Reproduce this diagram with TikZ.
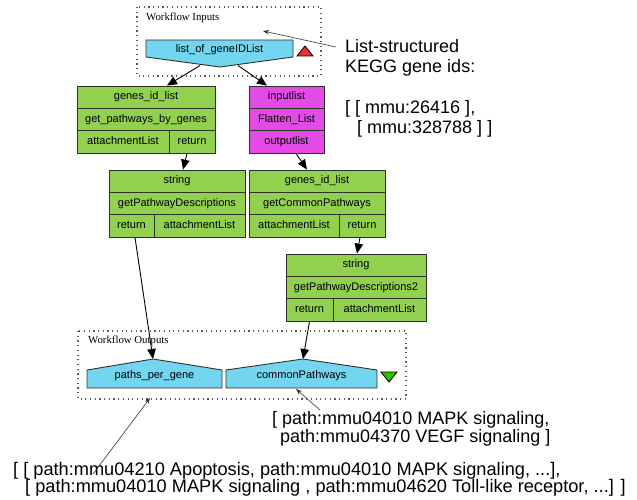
\documentclass[tikz,border=0pt]{standalone}
\usepackage{fontspec}
\setmainfont{Liberation Sans}
\newfontfamily\serifw{Liberation Serif}
\usetikzlibrary{arrows.meta}
\definecolor{procgreen}{HTML}{92D050}
\definecolor{procmag}{HTML}{E24BE6}
\definecolor{portblue}{HTML}{74D5F1}
\definecolor{boxline}{HTML}{2E3328}
\definecolor{dotgray}{HTML}{5A5A5A}
\definecolor{annotgray}{HTML}{333333}
\definecolor{trired}{HTML}{F03030}
\definecolor{trigreen}{HTML}{33C000}
\begin{document}
\begin{tikzpicture}[x=1pt,y=-1pt,
  cell/.style={draw=boxline, line width=0.9pt, inner sep=0pt, minimum height=22.3pt,
    font=\fontsize{11}{12}\selectfont, text height=7.8pt, text depth=2.3pt},
  gcell/.style={cell, fill=procgreen},
  mcell/.style={cell, fill=procmag},
  port/.style={draw=boxline, line width=0.9pt, fill=portblue},
  portlabel/.style={inner sep=0pt, font=\fontsize{11}{12}\selectfont, text height=7.8pt, text depth=2.3pt},
  groupbox/.style={draw=dotgray, line width=1.2pt, dash pattern=on 1.2pt off 3.5pt},
  grouplabel/.style={inner sep=0pt, anchor=west, font=\serifw\fontsize{10.8}{12}\selectfont},
  flow/.style={draw=black, line width=0.9pt, -{Triangle[length=10pt,width=8.5pt]}},
  annot/.style={draw=annotgray, line width=0.6pt, -{Stealth[length=6pt,width=4.5pt]}},
  annottext/.style={inner sep=0pt, align=left, anchor=north west}
]
\useasboundingbox (0,0) rectangle (637,500);

% ---- group boxes ----
\draw[groupbox] (137,7) rectangle (321,76);
\node[grouplabel] (inlabel) at (146,17.5) {Workflow Inputs};
\draw[groupbox] (78,331) rectangle (406,399);
\node[grouplabel] (outlabel) at (88,341) {Workflow Outputs};

% ---- input port ----
\draw[port] (146,40) -- (293,40) -- (293,57) -- (220,67) -- (146,57) -- cycle;
\node[portlabel] (inp) at (219.5,49.5) {list\_of\_geneIDList};
\coordinate (inpA) at (200,65.5);
\coordinate (inpB) at (238,65.5);
\draw[draw=black, line width=0.8pt, fill=trired] (297,56) -- (313,56) -- (305,46) -- cycle;

% ---- get_pathways_by_genes ----
\node[gcell, minimum width=138pt] (b1in) at (146,97.2) {genes\_id\_list};
\node[gcell, minimum width=138pt] (b1name) at (146,119.5) {get\_pathways\_by\_genes};
\node[gcell, minimum width=92pt] (b1o1) at (123,141.8) {attachmentList};
\node[gcell, minimum width=46pt] (b1o2) at (192,141.8) {return};

% ---- Flatten_List ----
\node[mcell, minimum width=75pt] (m1in) at (286.5,97.2) {inputlist};
\node[mcell, minimum width=75pt] (m1name) at (286.5,119.5) {Flatten\_List};
\node[mcell, minimum width=75pt] (m1out) at (286.5,141.8) {outputlist};

% ---- getPathwayDescriptions ----
\node[gcell, minimum width=136pt] (b2in) at (177,181.2) {string};
\node[gcell, minimum width=136pt] (b2name) at (177,203.5) {getPathwayDescriptions};
\node[gcell, minimum width=45pt] (b2o1) at (131.5,225.8) {return};
\node[gcell, minimum width=91pt] (b2o2) at (199.5,225.8) {attachmentList};

% ---- getCommonPathways ----
\node[gcell, minimum width=136pt] (b3in) at (317,181.2) {genes\_id\_list};
\node[gcell, minimum width=136pt] (b3name) at (317,203.5) {getCommonPathways};
\node[gcell, minimum width=90pt] (b3o1) at (294,225.8) {attachmentList};
\node[gcell, minimum width=46pt] (b3o2) at (362,225.8) {return};

% ---- getPathwayDescriptions2 ----
\node[gcell, minimum width=140pt] (b4in) at (356,265.2) {string};
\node[gcell, minimum width=140pt] (b4name) at (356,287.5) {getPathwayDescriptions2};
\node[gcell, minimum width=47pt] (b4o1) at (309.5,309.8) {return};
\node[gcell, minimum width=93pt] (b4o2) at (379.5,309.8) {attachmentList};

% ---- output ports ----
\draw[port] (87,388) -- (87,370) -- (153,359) -- (222,370) -- (222,388) -- cycle;
\node[portlabel] (ppg) at (154.5,376) {paths\_per\_gene};
\coordinate (ppgTop) at (153,359);
\draw[port] (226,388) -- (226,370) -- (303,359) -- (377,370) -- (377,388) -- cycle;
\node[portlabel] (cp) at (301.5,376) {commonPathways};
\coordinate (cpTop) at (303,359);
\draw[draw=black, line width=0.8pt, fill=trigreen] (381,372) -- (397,372) -- (389,382) -- cycle;

% ---- data links ----
\draw[flow] (inpA) -- ([xshift=21pt]b1in.north);
\draw[flow] (inpB) -- ([xshift=-19.5pt]m1in.north);
\draw[flow] ([xshift=-5pt]b1o2.south) -- ([xshift=6pt]b2in.north);
\draw[flow] ([xshift=9.5pt]m1out.south) -- ([xshift=-10pt]b3in.north);
\draw[flow] ([xshift=-2pt]b3o2.south) -- ([xshift=1pt]b4in.north);
\draw[flow] ([xshift=3.5pt]b2o1.south) -- (ppgTop);
\draw[flow] (b4o1.south) -- (cpTop);

% ---- annotations ----
\node[annottext, font=\fontsize{18}{20}\selectfont] (ann1) at (345,39)
  {List-structured\\KEGG gene ids:\\[21pt][ [ mmu:26416 ],\\\hspace*{12pt}[ mmu:328788 ] ]};
\coordinate (ann1tip) at (263,31);
\draw[annot] ([xshift=-9pt,yshift=-8pt]ann1.north west) -- (ann1tip);

\node[annottext, font=\fontsize{18}{18}\selectfont] (ann2) at (272,411)
  {[ path:mmu04010 MAPK signaling,\\\hspace*{8pt}path:mmu04370 VEGF signaling ]};
\coordinate (ann2tip) at (296,389);
\draw[annot] ([xshift=48pt,yshift=1pt]ann2.north west) -- (ann2tip);

\node[annottext, font=\fontsize{18.2}{17.5}\selectfont] (ann3) at (13,462)
  {[ [ path:mmu04210 Apoptosis, path:mmu04010 MAPK signaling, ...],\\\hspace*{12pt}[ path:mmu04010 MAPK signaling , path:mmu04620 Toll-like receptor, ...] ]};
\coordinate (ann3tip) at (150,398);
\draw[annot] ([xshift=80pt,yshift=-12pt]ann3.north west) -- (ann3tip);
\end{tikzpicture}
\end{document}
